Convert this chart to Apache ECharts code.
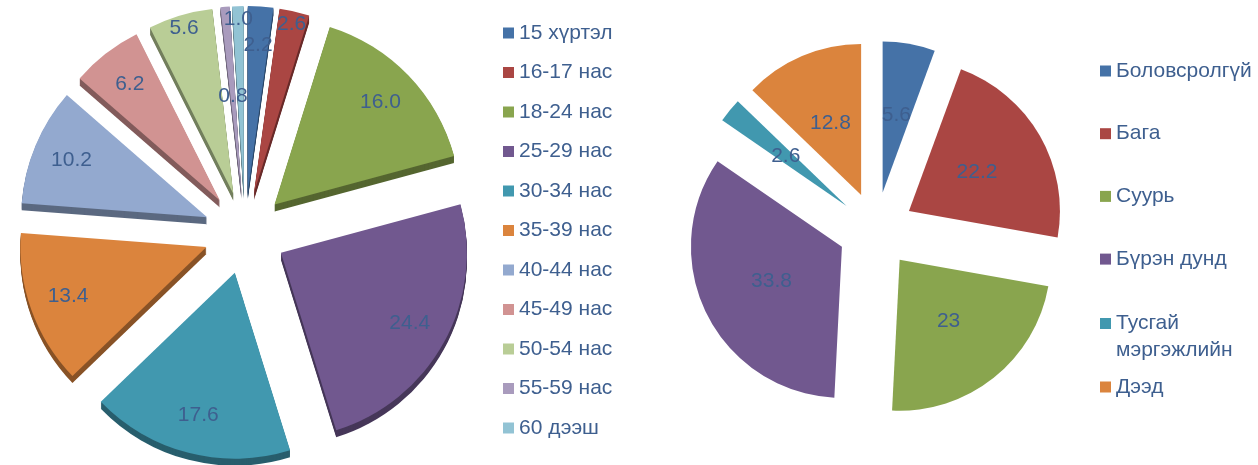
<!DOCTYPE html>
<html>
<head>
<meta charset="utf-8">
<script src="https://cdn.jsdelivr.net/npm/echarts@6/dist/echarts.min.js"></script>
<style>
  html, body { margin: 0; padding: 0; background: #fff; }
  #main { width: 1258px; height: 465px; }
</style>
</head>
<body>
<div id="main"></div>
<script>
// насны бүлэг
var ageNames = ['15 хүртэл', '16-17 нас', '18-24 нас', '25-29 нас', '30-34 нас', '35-39 нас',
  '40-44 нас', '45-49 нас', '50-54 нас', '55-59 нас', '60 дээш'];
var ageValues = [2.2, 2.6, 16.0, 24.4, 17.6, 13.4, 10.2, 6.2, 5.6, 0.8, 1.0];

// боловсрол
var eduNames = ['Боловсролгүй', 'Бага', 'Суурь', 'Бүрэн дунд', 'Тусгай\nмэргэжлийн', 'Дээд'];
var eduValues = [5.6, 22.2, 23, 33.8, 2.6, 12.8];

var palette = ['#4572A7', '#AA4643', '#89A54E', '#71588F', '#4198AF', '#DB843D',
  '#93A9CF', '#D19392', '#B9CD96', '#A99BBD', '#92C3D4'];
var labelColor = '#3E5F8F';
var font = 'Liberation Sans, Arial, sans-serif';

// шошгын байрлал: 0 - төв рүү ойр, 1 - дунд, 2 - захад ойр
var ageLabelRing = [1, 2, 1, 1, 1, 1, 1, 1, 2, 0, 2];

function darken(hex, k) {
  var n = parseInt(hex.slice(1), 16);
  var r = Math.round(((n >> 16) & 255) * k);
  var g = Math.round(((n >> 8) & 255) * k);
  var b = Math.round((n & 255) * k);
  return 'rgb(' + r + ',' + g + ',' + b + ')';
}

var chart = echarts.init(document.getElementById('main'));

// зүүн талын дугуй (3D маягийн)
var L = { cx: 245, cy: 233, r: 186, off: 41, depth: 7 };
// баруун талын дугуй
var R = { cx: 876, cy: 230, r: 151, off: 38 };

var labelStyle = {
  show: true, position: 'inside', color: labelColor, fontSize: 21, fontFamily: font,
  textBorderWidth: 0
};
function fixed1(p) { return p.value.toFixed(1); }

var series = [];

// үндсэн зүсмэлүүд
series.push({
  type: 'pie',
  center: [L.cx, L.cy],
  radius: [0, L.r],
  startAngle: 90,
  selectedMode: 'multiple',
  selectedOffset: L.off,
  avoidLabelOverlap: false,
  labelLayout: { hideOverlap: false },
  label: Object.assign({}, labelStyle, { formatter: fixed1 }),
  labelLine: { show: false },
  emphasis: { disabled: true },
  z: 10,
  data: ageNames.map(function (n, i) {
    return {
      name: n, value: ageValues[i], selected: true,
      itemStyle: { color: palette[i] },
      label: { show: ageLabelRing[i] === 0 }
    };
  })
});

// гүний давхарга
for (var d = 1; d <= L.depth; d++) {
  series.push({
    type: 'pie',
    center: [L.cx, L.cy + d],
    radius: [0, L.r],
    startAngle: 90,
    selectedMode: 'multiple',
    selectedOffset: L.off,
    silent: true,
    label: { show: false },
    labelLine: { show: false },
    emphasis: { disabled: true },
    z: 9 - d * 0.1,
    data: ageNames.map(function (n, i) {
      return { name: n, value: ageValues[i], selected: true, itemStyle: { color: darken(palette[i], 0.62) } };
    })
  });
}

// шошгын тунгалаг цагиргууд
[[1, 0.55], [2, 0.82]].forEach(function (ring) {
  series.push({
    type: 'pie',
    center: [L.cx, L.cy],
    radius: [Math.round(L.r * ring[1]), L.r],
    startAngle: 90,
    selectedMode: 'multiple',
    selectedOffset: L.off,
    silent: true,
    avoidLabelOverlap: false,
    labelLayout: { hideOverlap: false },
    itemStyle: { color: 'rgba(0,0,0,0)' },
    emphasis: { disabled: true },
    label: Object.assign({}, labelStyle, { formatter: fixed1 }),
    labelLine: { show: false },
    z: 11,
    data: ageNames.map(function (n, i) {
      return { name: n, value: ageValues[i], selected: true, label: { show: ageLabelRing[i] === ring[0] } };
    })
  });
});

series.push({
  type: 'pie',
  center: [R.cx, R.cy],
  radius: [0, R.r],
  startAngle: 90,
  selectedMode: 'multiple',
  selectedOffset: R.off,
  avoidLabelOverlap: false,
  labelLayout: { hideOverlap: false },
  emphasis: { disabled: true },
  label: Object.assign({}, labelStyle, { formatter: '{c}' }),
  labelLine: { show: false },
  data: eduNames.map(function (n, i) {
    return { name: n, value: eduValues[i], selected: true, itemStyle: { color: palette[i] } };
  })
});

var legendText = { color: labelColor, fontSize: 21, fontFamily: font };

var option = {
  animation: false,
  legend: [
    {
      orient: 'vertical', left: 503, top: 22, padding: 0,
      icon: 'rect', itemWidth: 11, itemHeight: 11, itemGap: 17.5,
      selectedMode: false,
      textStyle: Object.assign({ lineHeight: 22 }, legendText),
      data: ageNames
    },
    {
      orient: 'vertical', left: 1100, top: 57.5, padding: 0,
      icon: 'rect', itemWidth: 11, itemHeight: 11, itemGap: 35.7,
      selectedMode: false,
      textStyle: Object.assign({ lineHeight: 27 }, legendText),
      data: eduNames.slice(0, 4)
    },
    {
      // хоёр мөртэй нэрийн эхний мөрийг дүрстэй зэрэгцүүлэх
      orient: 'vertical', left: 1100, top: 283, padding: 0,
      icon: 'rect', itemWidth: 11, itemHeight: 11, itemGap: 9.5,
      selectedMode: false,
      textStyle: Object.assign({ lineHeight: 27 }, legendText),
      formatter: function (name) { return name.indexOf('\n') >= 0 ? '\n' + name : name; },
      data: eduNames.slice(4)
    }
  ],
  series: series
};

chart.setOption(option);
</script>
</body>
</html>
